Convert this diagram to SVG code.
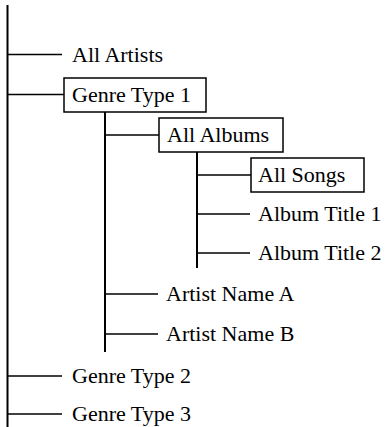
<svg xmlns="http://www.w3.org/2000/svg" width="386" height="427" viewBox="0 0 386 427">
<style>
text{font-family:"Liberation Serif","Times New Roman",serif;font-size:22px;fill:#000}
.c line{stroke:#000;stroke-width:1.5}
.c .v{stroke-width:2}
.b{fill:#fff;stroke:#000;stroke-width:1.5}
</style>
<rect width="386" height="427" fill="#fff"/>
<g id="connectors" class="c">
<line class="v" x1="7.5" y1="5" x2="7.5" y2="427"/>
<line class="v" x1="105" y1="112" x2="105" y2="352"/>
<line class="v" x1="197" y1="152" x2="197" y2="268"/>
<line x1="7.5" y1="54.5" x2="62" y2="54.5"/>
<line x1="7.5" y1="94.5" x2="64" y2="94.5"/>
<line x1="105" y1="135" x2="159" y2="135"/>
<line x1="197" y1="175" x2="251" y2="175"/>
<line x1="197" y1="214" x2="250" y2="214"/>
<line x1="197" y1="253" x2="250" y2="253"/>
<line x1="105" y1="294" x2="158" y2="294"/>
<line x1="105" y1="334" x2="158" y2="334"/>
<line x1="7.5" y1="376" x2="62" y2="376"/>
<line x1="7.5" y1="414" x2="62" y2="414"/>
</g>
<g id="all-artists"><text x="72" y="62">All Artists</text></g>
<g id="genre-type-1"><rect class="b" x="64" y="78" width="142" height="34"/><text x="72" y="102">Genre Type 1</text></g>
<g id="all-albums"><rect class="b" x="159" y="118" width="124" height="34"/><text x="167" y="142">All Albums</text></g>
<g id="all-songs"><rect class="b" x="251" y="158" width="113" height="34"/><text x="258" y="182">All Songs</text></g>
<g id="album-title-1"><text x="258" y="221">Album Title 1</text></g>
<g id="album-title-2"><text x="258" y="260">Album Title 2</text></g>
<g id="artist-name-a"><text x="166" y="301">Artist Name A</text></g>
<g id="artist-name-b"><text x="166" y="341">Artist Name B</text></g>
<g id="genre-type-2"><text x="72" y="383">Genre Type 2</text></g>
<g id="genre-type-3"><text x="72" y="421">Genre Type 3</text></g>
</svg>
